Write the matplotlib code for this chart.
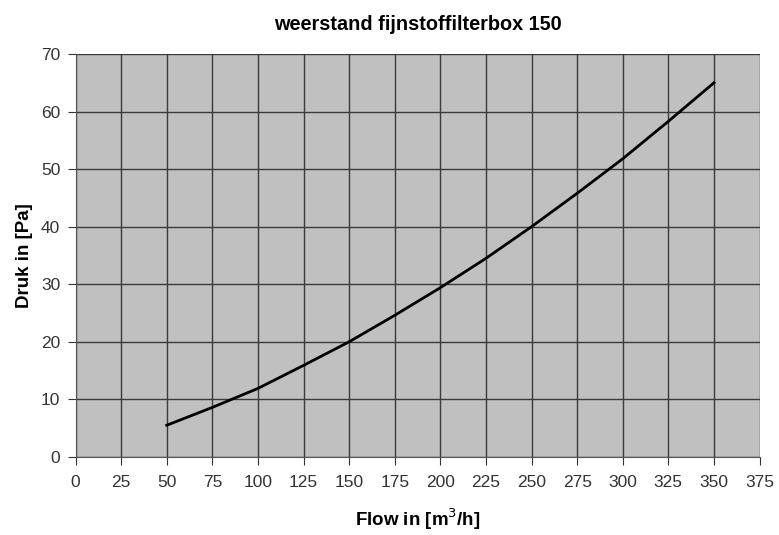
import matplotlib
matplotlib.use('Agg')
import matplotlib.pyplot as plt

# flow vs pressure drop
flow = [50, 75, 100, 125, 150, 175, 200, 225, 250, 275, 300, 325, 350]
druk = [5.5, 8.6, 11.9, 15.9, 20.0, 24.6, 29.4, 34.5, 40.0, 45.8, 51.8, 58.3, 65.0]

xticks = list(range(0, 400, 25))
yticks = list(range(0, 80, 10))

plt.rcParams['font.family'] = ['Liberation Sans', 'DejaVu Sans']

fig = plt.figure(figsize=(7.79, 5.35), dpi=100)
ax = fig.add_axes([0.097, 0.146, 0.878, 0.753])
ax.set_facecolor('#c0c0c0')

ax.plot(flow, druk, color='black', linewidth=2)

ax.set_xlim(0, 375)
ax.set_ylim(0, 70)
ax.set_xticks(xticks)
ax.set_yticks(yticks)
ax.grid(True, color='#3a3a3a', linewidth=1)
ax.set_axisbelow(True)

for s in ['top', 'right']:
    ax.spines[s].set_visible(False)
for s in ['left', 'bottom']:
    ax.spines[s].set_color('#555555')
ax.tick_params(axis='both', labelsize=12.5, colors='#333333', length=6, direction='out')
ax.tick_params(axis='x', pad=7)
ax.tick_params(axis='y', pad=5)

ax.set_title('weerstand fijnstoffilterbox 150', fontsize=14.3, fontweight='bold', pad=17)
ax.set_xlabel('Flow in [m$^3$/h]', fontsize=13.5, fontweight='bold', labelpad=12)
ax.set_ylabel('Druk in [Pa]', fontsize=13.5, fontweight='bold', labelpad=6)

plt.savefig('out.png', dpi=100)
